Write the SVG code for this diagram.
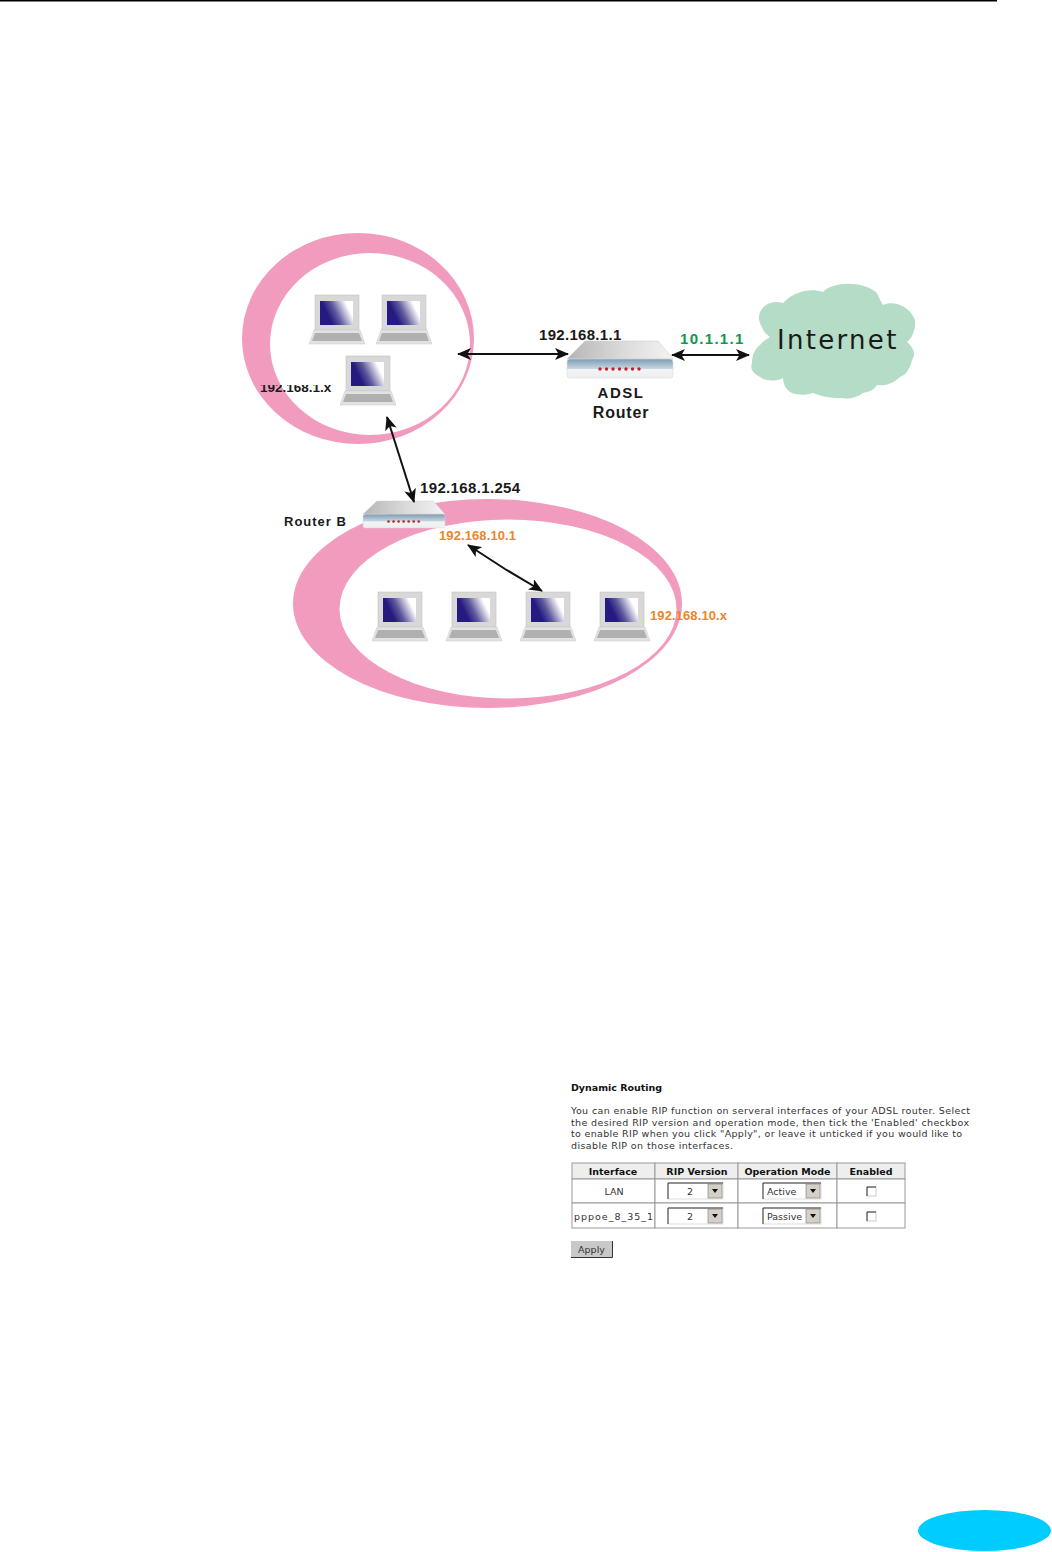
<svg xmlns="http://www.w3.org/2000/svg" width="1052" height="1552" viewBox="0 0 1052 1552">
<style>
.ring{fill:#f19cbf}
.hole{fill:#fff}
.lbl{font-family:"Liberation Sans",Arial,sans-serif;font-weight:700;fill:#1a1a1a}
.or{fill:#e8872a}
.gr{fill:#0b9a4c}
.link{fill:none;stroke:#111;stroke-width:2;marker-start:url(#ah);marker-end:url(#ah)}
.ui{font-family:"DejaVu Sans",Verdana,sans-serif;font-size:9.5px;fill:#333}
.uib{font-family:"DejaVu Sans",Verdana,sans-serif;font-size:9.5px;font-weight:700;fill:#111}
.cell{fill:#fff;stroke:#999;stroke-width:1}
.head{fill:#eee;stroke:#999;stroke-width:1}
.sel{fill:#fff;stroke:#ddd;stroke-width:1}
.edge{fill:none;stroke:#333;stroke-width:1}
.btn{fill:#c8c8c8}
.tri{fill:#111}
.chk{fill:#fff;stroke:#ccc;stroke-width:1}
</style>
<defs>
<linearGradient id="scr" x1="0" y1=".55" x2="1" y2=".2"><stop offset=".2" stop-color="#241a80"/><stop offset=".45" stop-color="#5f5a9c"/><stop offset=".85" stop-color="#fff"/></linearGradient>
<linearGradient id="rtop" x1="0" y1="0" x2="1" y2="0"><stop offset="0" stop-color="#b5b5b5"/><stop offset=".55" stop-color="#dcdcdc"/><stop offset="1" stop-color="#f3f3f3"/></linearGradient>
<linearGradient id="rfr" x1="0" y1="0" x2="0" y2="1"><stop offset="0" stop-color="#7d9cb4"/><stop offset=".5" stop-color="#c6d6e0"/><stop offset=".55" stop-color="#f2f4f5"/><stop offset="1" stop-color="#eeeeee"/></linearGradient>
<marker id="ah" viewBox="0 0 14 12" refX="13" refY="6" markerWidth="14" markerHeight="12" markerUnits="userSpaceOnUse" orient="auto-start-reverse"><path d="M0 0L14 6L0 12L3.5 6Z" fill="#111"/></marker>
<symbol id="laptop" overflow="visible">
<rect x="0" y="0" width="44" height="35" fill="#d8d8d8" stroke="#c4c4c4" stroke-width=".6"/>
<rect x="5" y="6" width="33" height="24" fill="url(#scr)"/>
<path d="M-1 35H45L50 49H-6Z" fill="#e2e2e2" stroke="#c8c8c8" stroke-width=".5"/>
<path d="M0 38H44L47 46H-3Z" fill="#b0b0b0"/>
</symbol>
<symbol id="router" overflow="visible">
<path d="M18 0H91L106 18H0Z" fill="url(#rtop)" stroke="#d0d0d0" stroke-width=".6"/>
<rect x="0" y="18" width="106" height="19" rx="3" fill="url(#rfr)" stroke="#d8d8d8" stroke-width=".6"/>
<g fill="#c2202e"><circle cx="33" cy="28" r="1.7"/><circle cx="39.500" cy="28" r="1.7"/><circle cx="46" cy="28" r="1.7"/><circle cx="52.500" cy="28" r="1.7"/><circle cx="59" cy="28" r="1.7"/><circle cx="65.500" cy="28" r="1.7"/><circle cx="72" cy="28" r="1.7"/></g>
</symbol>
<clipPath id="cut"><rect x="255" y="385" width="85" height="12"/></clipPath>
<symbol id="down" overflow="visible"><rect x="0" y="0" width="14" height="14" fill="#d4d0c8" stroke="#777" stroke-width=".6"/><path d="M4 5H10L7 9Z" class="tri"/></symbol>
</defs>

<rect id="top-rule" x="0" y="0" width="997" height="1.500" fill="#000"/>

<g id="lan-a-ring"><ellipse class="ring" cx="358" cy="338.500" rx="116" ry="105.500"/><ellipse class="hole" cx="370" cy="344" rx="100" ry="91"/></g>
<g id="lan-b-ring"><ellipse class="ring" cx="487.500" cy="603.500" rx="194.500" ry="104.500"/><ellipse class="hole" cx="508" cy="609" rx="168.500" ry="89.500"/></g>

<g id="pc-a1"><use href="#laptop" x="315" y="295"/></g>
<g id="pc-a2"><use href="#laptop" x="382" y="295"/></g>
<g id="pc-a3"><use href="#laptop" x="346" y="356"/></g>
<g id="pc-b1"><use href="#laptop" x="378" y="592"/></g>
<g id="pc-b2"><use href="#laptop" x="452" y="592"/></g>
<g id="pc-b3"><use href="#laptop" x="526" y="592"/></g>
<g id="pc-b4"><use href="#laptop" x="600" y="592"/></g>

<g id="adsl-router"><use href="#router" x="0" y="0" transform="translate(567 341)"/>
<text class="lbl" x="621" y="398" text-anchor="middle" font-size="15" letter-spacing="1.500">ADSL</text>
<text class="lbl" x="621" y="418" text-anchor="middle" font-size="16" letter-spacing=".8">Router</text></g>
<g id="router-b"><use href="#router" transform="translate(363 501) scale(.774 .73)"/>
<text class="lbl" x="284" y="526" font-size="13" letter-spacing="1">Router B</text></g>

<g id="internet"><path d="M762 327C752 312 768 298 783 303C795 290 812 288 823 292C832 282 862 280 877 293C879 298 881 302 883 305C893 300 910 306 915 320C916 330 912 338 907 342C914 348 916 354 912 360C910 370 905 375 900 377C893 384 885 386 877 385C873 391 868 392 863 393C855 399 847 399 840 398C830 398 820 396 813 393C805 396 795 395 790 392C785 388 783 383 783 378C775 382 765 381 760 377C752 373 750 368 752 363C752 355 755 349 760 345C763 341 767 339 770 337C766 334 763 331 762 327Z" fill="#b5dcc6"/>
<text x="777" y="349" font-family="'DejaVu Sans',Verdana,sans-serif" font-size="26" letter-spacing="2.300" fill="#1a1a1a">Internet</text></g>

<g id="connectors">
<path class="link" d="M458 354H568"/>
<path class="link" d="M672 355H749"/>
<path class="link" d="M387 417L414 502"/>
<path class="link" d="M468 545L505 569L542 591"/>
</g>

<g id="labels">
<text class="lbl" x="539" y="340" font-size="15" letter-spacing=".3">192.168.1.1</text>
<text class="lbl gr" x="680" y="344" font-size="15" letter-spacing="1.300">10.1.1.1</text>
<text class="lbl" x="260" y="392" font-size="13.500" clip-path="url(#cut)">192.168.1.x</text>
<text class="lbl" x="420" y="493" font-size="15" letter-spacing=".35">192.168.1.254</text>
<text class="lbl or" x="439" y="540" font-size="13" letter-spacing=".1">192.168.10.1</text>
<text class="lbl or" x="650" y="620" font-size="13" letter-spacing=".1">192.168.10.x</text>
</g>

<g id="dynamic-routing-panel">
<text class="uib" x="571" y="1091" textLength="91">Dynamic Routing</text>
<text class="ui" x="571" y="1114" textLength="399">You can enable RIP function on serveral interfaces of your ADSL router. Select</text>
<text class="ui" x="571" y="1126" textLength="398">the desired RIP version and operation mode, then tick the 'Enabled' checkbox</text>
<text class="ui" x="571" y="1137" textLength="391">to enable RIP when you click "Apply", or leave it unticked if you would like to</text>
<text class="ui" x="571" y="1149" textLength="162">disable RIP on those interfaces.</text>

<g id="rip-table">
<rect class="head" x="572" y="1163" width="83" height="16"/><rect class="head" x="655" y="1163" width="83" height="16"/><rect class="head" x="738" y="1163" width="99" height="16"/><rect class="head" x="837" y="1163" width="68" height="16"/>
<rect class="cell" x="572" y="1179" width="83" height="24"/><rect class="cell" x="655" y="1179" width="83" height="24"/><rect class="cell" x="738" y="1179" width="99" height="24"/><rect class="cell" x="837" y="1179" width="68" height="24"/>
<rect class="cell" x="572" y="1203" width="83" height="25"/><rect class="cell" x="655" y="1203" width="83" height="25"/><rect class="cell" x="738" y="1203" width="99" height="25"/><rect class="cell" x="837" y="1203" width="68" height="25"/>
<text class="uib" x="613" y="1175" text-anchor="middle">Interface</text>
<text class="uib" x="697" y="1175" text-anchor="middle">RIP Version</text>
<text class="uib" x="787.500" y="1175" text-anchor="middle">Operation Mode</text>
<text class="uib" x="871" y="1175" text-anchor="middle">Enabled</text>
<text class="ui" x="614" y="1195" text-anchor="middle">LAN</text>
<text class="ui" x="574" y="1220" textLength="79">pppoe_8_35_1</text>

<rect class="sel" x="668" y="1183" width="55" height="16"/><path class="edge" d="M668 1199V1183H723"/><use href="#down" x="708" y="1184"/><text class="ui" x="690" y="1195" text-anchor="middle">2</text>
<rect class="sel" x="668" y="1208" width="55" height="16"/><path class="edge" d="M668 1224V1208H723"/><use href="#down" x="708" y="1209"/><text class="ui" x="690" y="1220" text-anchor="middle">2</text>
<rect class="sel" x="763" y="1183" width="58" height="16"/><path class="edge" d="M763 1199V1183H821"/><use href="#down" x="806" y="1184"/><text class="ui" x="767" y="1195">Active</text>
<rect class="sel" x="763" y="1208" width="58" height="16"/><path class="edge" d="M763 1224V1208H821"/><use href="#down" x="806" y="1209"/><text class="ui" x="767" y="1220">Passive</text>
<rect class="chk" x="867" y="1187" width="9" height="9"/><path class="edge" d="M867 1196V1187H876"/>
<rect class="chk" x="867" y="1212" width="9" height="9"/><path class="edge" d="M867 1221V1212H876"/>
</g>

<g id="apply-button"><rect class="btn" x="571" y="1241" width="41" height="16"/><path class="edge" d="M612.500 1241V1257.500H571"/><text class="ui" x="591.500" y="1253" text-anchor="middle">Apply</text></g>
</g>

<ellipse id="page-badge" cx="984.500" cy="1530.500" rx="66.500" ry="20.500" fill="#00ccff"/>
</svg>
